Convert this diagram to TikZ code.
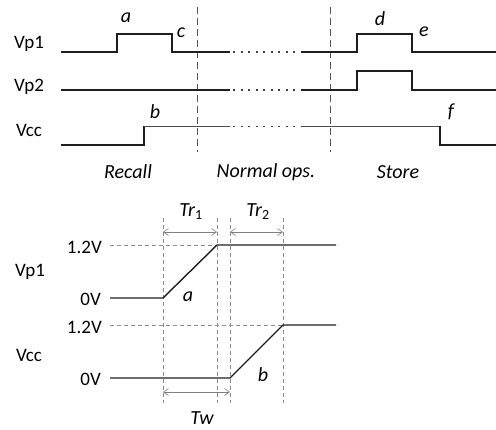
\documentclass[tikz,border=0pt]{standalone}
\usepackage{fontspec}
\setmainfont{Carlito}
\usetikzlibrary{arrows.meta}
\definecolor{sigink}{HTML}{1E1E1E}
\definecolor{guideink}{HTML}{555555}

\begin{document}
\begin{tikzpicture}[
  x=1pt, y=-1pt,
  font=\fontsize{19}{21}\selectfont,
  sig/.style={draw=sigink, line width=1.4pt},
  sigthin/.style={draw=sigink!80, line width=0.9pt},
  dotrun/.style={draw=sigink!85, line width=1.3pt, dash pattern=on 2pt off 5.5pt},
  phase/.style={draw=guideink, line width=0.9pt, dash pattern=on 7pt off 4pt},
  gridln/.style={draw=gray!90, line width=0.6pt, dash pattern=on 4pt off 3pt},
  span/.style={draw=gray, line width=0.6pt, {Straight Barb[length=5pt,width=7pt]}-{Straight Barb[length=5pt,width=7pt]}},
  sname/.style={anchor=center},
  lvl/.style={anchor=east, inner sep=0pt},
  tag/.style={font=\fontsize{20}{22}\selectfont\itshape},
]
\useasboundingbox (0,0) rectangle (496,429);
% ================= TOP : SEQUENCE =================
\node[sname] (n1) at (29,44) {Vp1};
\node[sname] (n2) at (29,87) {Vp2};
\node[sname] (n3) at (29,130) {Vcc};

% phase borders
\draw[phase] (197,7) -- (197,152);
\draw[phase] (330,7) -- (330,152);

% Vp1
\draw[sig] (61,52) -- (117,52) -- (117,34) -- (172,34) -- (172,52) -- (230,52);
\draw[dotrun] (233,52) -- (301,52);
\draw[sig] (301,52) -- (357,52) -- (357,34) -- (412,34) -- (412,52) -- (496,52);
% Vp2
\draw[sig] (61,90) -- (230,90);
\draw[dotrun] (233,90) -- (301,90);
\draw[sig] (301,90) -- (357,90) -- (357,71) -- (412,71) -- (412,90) -- (496,90);
% Vcc
\draw[sig] (61,145) -- (144,145) -- (144,126);
\draw[sigthin] (144,126) -- (230,126);
\draw[dotrun, line width=0.9pt] (233,126) -- (301,126);
\draw[sigthin] (301,126) -- (440,126);
\draw[sig] (440,126) -- (440,145) -- (496,145);

\node[tag] (ta) at (126,18) {a};
\node[tag] (tc) at (181,33) {c};
\node[tag] (tb) at (155,112) {b};
\node[tag] (td) at (380,19) {d};
\node[tag] (te) at (424,32) {e};
\node[tag] (tf) at (451,112) {f};

\node[tag] (p1) at (128,172) {Recall};
\node[tag] (p2) at (266,172) {Normal ops.};
\node[tag] (p3) at (398,172) {Store};

% ================= BOTTOM : RAMPS =================
\node[sname] (m1) at (30,272) {Vp1};
\node[sname] (m2) at (29,355) {Vcc};
\node[lvl] (hi1) at (102,247) {1.2V};
\node[lvl] (lo1) at (101,299) {0V};
\node[lvl] (hi2) at (102,327) {1.2V};
\node[lvl] (lo2) at (101,379) {0V};

\foreach \xx in {163,217,230,283}
  \draw[gridln] (\xx,218) -- (\xx,403);
\draw[gridln] (110,245) -- (217,245);
\draw[gridln] (110,325) -- (283,325);

\draw[sig] (110,298) -- (163,298) -- (217,245) -- (336,245);
\draw[sig] (110,378) -- (230,378) -- (283,325) -- (336,325);

\coordinate (r1a) at (163,232);
\coordinate (r1b) at (217,232);
\coordinate (r2a) at (230,232);
\coordinate (r2b) at (283,232);
\coordinate (twa) at (163,392);
\coordinate (twb) at (230,392);
\draw[span] (r1a) -- (r1b);
\draw[span] (r2a) -- (r2b);
\draw[span] (twa) -- (twb);

\node[tag] (tr1) at (191,212) {Tr\textsubscript{\upshape 1}};
\node[tag] (tr2) at (258,212) {Tr\textsubscript{\upshape 2}};
\node[tag] (tw) at (202,418) {Tw};
\node[tag] (ra) at (188,297) {a};
\node[tag] (rb) at (263,375) {b};
\end{tikzpicture}
\end{document}
